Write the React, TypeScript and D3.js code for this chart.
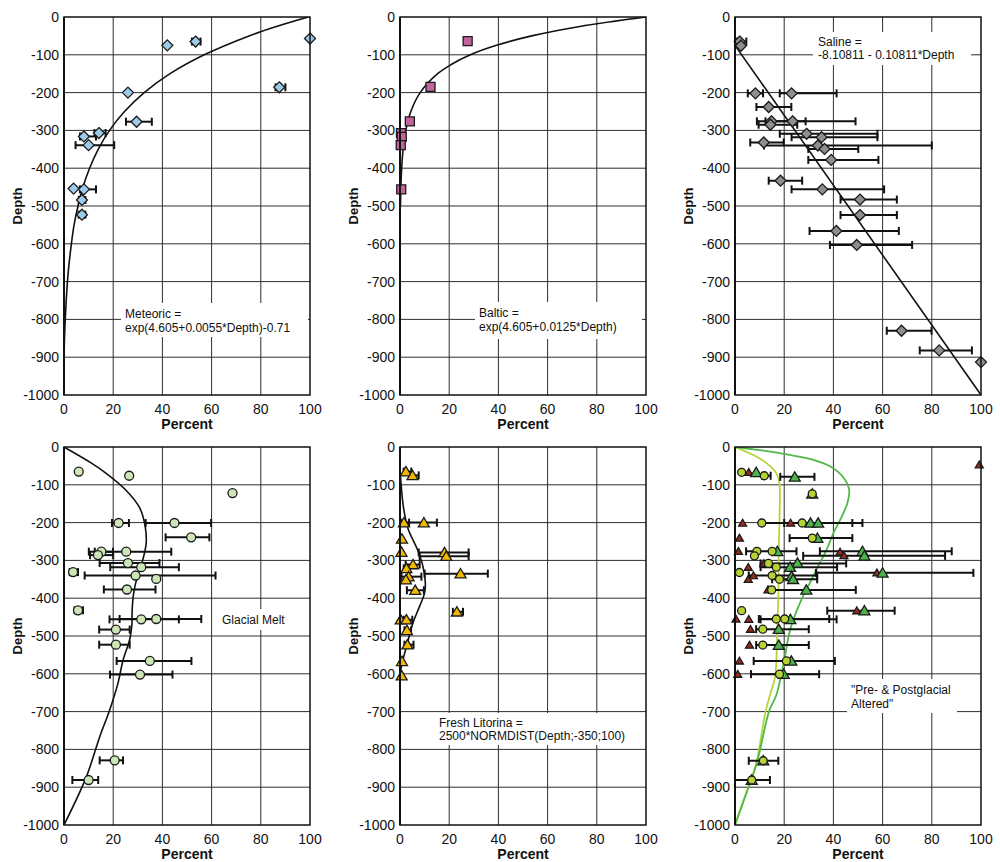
import React from 'react';
import * as d3 from 'd3';

type Pt = [number, number, number?, number?];
type CurvePt = [number, number];

// ---------- axis ticks ----------
const xTicks = [0, 20, 40, 60, 80, 100];
const yTicks = [0, -100, -200, -300, -400, -500, -600, -700, -800, -900, -1000];
const xTitle = 'Percent';
const yTitle = 'Depth';

// ---------- panel 1: Meteoric ----------
const meteoricPts: Pt[] = [
  [42, -75], [53.5, -65, 52, 55.5], [100, -57], [87.5, -186, 86, 90], [26, -200],
  [29.5, -277, 25.2, 35.7], [14.2, -307, 12.4, 16.9], [8.1, -316, 6.5, 13],
  [10, -339, 4.7, 20.4], [3.9, -454], [8.1, -456, 6.5, 13], [7.3, -484, 6, 8.7],
  [7.3, -523, 6, 8.7],
];
const meteoricCurve: CurvePt[] = [
  [99.3, 0], [86.4, -25], [75.2, -50], [57, -100], [43.1, -150], [32.6, -200],
  [24.6, -250], [18.5, -300], [13.9, -350], [10.4, -400], [7.7, -450], [5.7, -500],
  [4.1, -550], [3, -600], [2.1, -650], [1.4, -700], [0.9, -750], [0.5, -800],
  [0.2, -850], [0, -899],
];
const meteoricNote = ['Meteoric =', 'exp(4.605+0.0055*Depth)-0.71'];

// ---------- panel 2: Baltic ----------
const balticPts: Pt[] = [
  [27.5, -64], [12.4, -185], [4, -276], [0.4, -307], [0.7, -317], [0.3, -339], [0.5, -456],
];
const balticCurve: CurvePt[] = [
  [100, 0], [73.1, -25], [53.5, -50], [39.2, -75], [28.6, -100], [21, -125], [15.3, -150],
  [8.2, -200], [4.4, -250], [2.35, -300], [1.26, -350], [0.67, -400], [0.36, -450], [0.19, -500],
];
const balticNote = ['Baltic =', 'exp(4.605+0.0125*Depth)'];

// ---------- panel 3: Saline ----------
const salinePts: Pt[] = [
  [1.9, -65, 0.8, 4.6], [2.4, -76], [8.3, -202, 5.2, 11.4], [23, -202, 18.2, 41.3],
  [13.7, -238, 8.7, 22.9], [14.8, -276, 8.9, 28.7], [23.4, -276, 12.4, 49],
  [14.4, -285, 9.6, 25.3], [29.1, -309, 18.2, 57.9], [35.2, -318, 23, 57.9],
  [11.7, -332, 6.2, 19.8], [33.7, -340, 11.8, 80], [36.4, -349, 29.8, 50.1],
  [39.1, -378, 29.8, 58.3], [18.5, -433, 13.7, 27.3], [35.5, -456, 23, 60.6],
  [50.8, -483, 42.9, 65.8], [50.8, -524, 42.9, 65.8], [41.2, -566, 30.3, 66.6],
  [49.5, -603, 38.6, 72], [67.7, -830, 61.7, 79.9], [83, -882, 75.1, 96.3], [100, -913],
];
const salineCurve: CurvePt[] = [[0, -75], [100, -1000]];
const salineNote = ['Saline =', '-8.10811 - 0.10811*Depth'];

// ---------- panel 4: Glacial melt ----------
const glacialPts: Pt[] = [
  [6, -65], [26.5, -76], [68.5, -122], [22.2, -201, 19.5, 26.4], [44.9, -201, 33.2, 59.8],
  [51.7, -239, 41.3, 59.1], [15.2, -277, 10.1, 19.9], [25.3, -277, 12.5, 43.6],
  [13.8, -286, 10.6, 20], [26, -307, 14.5, 38.8], [31.4, -318, 18.8, 46.7],
  [3.7, -331, 2.3, 5.7], [29.1, -340, 8.4, 61.6], [37.5, -349], [25.6, -377, 16.2, 37.2],
  [5.7, -432, 4.3, 7.7], [31.4, -456, 18.5, 46.7], [37.5, -455, 22.6, 55.8],
  [21.1, -483, 14.3, 26.7], [21.1, -523, 14.3, 26.7], [34.9, -566, 21.4, 51.8],
  [30.9, -602, 18.7, 44.1], [20.6, -829, 14.5, 24], [10, -881, 3.4, 13.9],
];
const glacialCurve: CurvePt[] = [
  [0, 0], [11, -42], [17, -69], [25, -113], [30.7, -160], [33, -210], [33.4, -255],
  [32, -299], [29.8, -343], [28.3, -387], [27.7, -432], [27.6, -470], [26.7, -510],
  [24, -564], [21.9, -626], [18.5, -697], [14.5, -767], [9, -874], [0, -1000],
];
const glacialNote = ['Glacial Melt'];

// ---------- panel 5: Fresh Litorina ----------
const litorinaPts: Pt[] = [
  [2.4, -65, 1.5, 4.6], [5.1, -75, 3.7, 7.6], [1.6, -200, 0.4, 3.7], [9.7, -200, 1.9, 15],
  [0.8, -243], [0.6, -278], [18.1, -279, 7.6, 27.9], [18.8, -289, 8, 27.9],
  [5.3, -311, 2.3, 8], [2.6, -321, 1.5, 4], [24.6, -335, 10, 35.7], [3.5, -343, 0.6, 8.7],
  [2.4, -351], [6.2, -379, 2.8, 9.7], [23.1, -436, 21.5, 25.6], [0.3, -457],
  [2.6, -457, 1.5, 5], [2.8, -485, 1.8, 4.5], [3, -523, 1.8, 5.5], [0.8, -567], [0.7, -605],
];
const litorinaCurve: CurvePt[] = [
  [0, -58], [0.6, -111], [1.5, -164], [3.3, -217], [7, -270], [9.3, -315], [10.3, -359],
  [10, -386], [8, -421], [5.3, -465], [3, -519], [1.2, -563], [0.3, -590], [0, -610],
];
const litorinaNote = ['Fresh Litorina =', '2500*NORMDIST(Depth;-350;100)'];

// ---------- panel 6: Pre- & Postglacial altered ----------
const alteredRed: Pt[] = [
  [99.3, -47], [5.6, -67], [3.1, -201], [22.6, -201], [1.8, -241], [1.4, -276], [42.7, -278],
  [44.3, -287], [11.7, -308], [5.4, -318], [57.7, -333], [7.5, -340], [5.4, -350],
  [13.4, -378], [49.5, -433], [0.4, -455], [5.6, -456], [6.3, -482], [5.9, -524],
  [1.8, -566], [1.1, -601],
];
const alteredCircle: Pt[] = [
  [2.7, -67], [11.9, -76, 11, 14.5], [31.4, -124], [10.9, -201], [27.3, -201, 11, 51.8],
  [31.4, -241], [8.9, -276], [7.9, -288], [15.1, -276, 4.5, 25], [13.6, -308, 10.4, 45.2],
  [16.8, -318, 10.4, 41.5], [1.8, -332], [15.1, -340, 5.6, 33.4], [18.1, -350, 15.1, 33.4],
  [14.9, -378, 13.8, 49.1], [2.7, -433], [16.8, -455, 9.7, 38.3], [20.2, -455],
  [11.3, -482, 8.6, 30], [11.3, -524, 8.6, 30], [20.9, -566, 7.6, 40.6],
  [18.1, -601, 6.5, 34.2], [11.5, -830, 5.6, 17.6], [6.8, -881, 0, 14.2],
];
const alteredGreen: Pt[] = [
  [8.6, -67], [24.3, -79, 18.4, 32.3], [31.4, -124], [30.7, -201, 20, 47.7], [33.8, -201],
  [33.5, -241, 22.2, 47.7], [17.2, -276], [51.8, -276, 34.5, 88.1], [52.6, -288, 27.7, 85.4],
  [25.4, -307], [22.4, -318], [60, -333, 32.9, 96.9], [23, -342], [23.6, -350], [29, -378],
  [52.6, -433, 37.5, 64.9], [22.5, -456, 10.4, 41.3], [17.8, -482], [17.8, -524],
  [22.9, -566], [19.8, -601], [11.5, -830], [6.8, -881],
];
const alteredLightCurve: CurvePt[] = [
  [0, 0], [8.6, -25], [12.7, -42], [16.8, -69], [18.1, -100], [18.1, -184], [17.8, -272],
  [17.6, -400], [17.2, -479], [16.8, -568], [16.2, -612], [14.5, -650], [12.4, -700],
  [8.5, -840], [3.8, -929], [0, -1000],
];
const alteredGreenCurve: CurvePt[] = [
  [0, 0], [18.1, -16], [31.8, -34], [38.6, -51], [44, -80], [46.4, -113], [45.7, -148],
  [43.4, -184], [40, -228], [37.2, -272], [33.8, -316], [30.4, -360], [27, -404],
  [22.6, -479], [19.9, -568], [16.8, -656], [13.8, -700], [8.7, -840], [3.9, -929], [0, -1000],
];
const alteredNote = ['"Pre- & Postglacial', 'Altered"'];

// ---------- layout / style ----------
const FONT = "'Liberation Sans', Arial, Helvetica, sans-serif";
const PW = 246;
const PH = 378;
const COLS = [64, 400, 735];
const ROWS = [17, 447];

type Shape = 'diamond' | 'square' | 'circle' | 'triangle';
interface SeriesDef { pts: Pt[]; shape: Shape; size: number; fill: string; }
interface CurveDef { pts: CurvePt[]; color: string; width: number; }
interface NoteDef { lines: string[]; dx: number; dy: number; lh: number; box: [number, number, number, number]; }

function shapePath(shape: Shape, s: number): string {
  const h = s / 2;
  if (shape === 'diamond') return `M0,${-h}L${h},0L0,${h}L${-h},0Z`;
  if (shape === 'square') return `M${-h},${-h}H${h}V${h}H${-h}Z`;
  if (shape === 'triangle') {
    const th = s * 0.85;
    return `M0,${-th * 0.55}L${h},${th * 0.45}L${-h},${th * 0.45}Z`;
  }
  return '';
}

function Panel(props: { id: string; left: number; top: number; series: SeriesDef[]; curves: CurveDef[]; note: NoteDef; }) {
  const { id, left, top, series, curves, note } = props;
  const x = d3.scaleLinear().domain([0, 100]).range([left, left + PW]);
  const y = d3.scaleLinear().domain([0, -1000]).range([top, top + PH]);
  const line = d3.line<CurvePt>().x(d => x(d[0])).y(d => y(d[1])).curve(d3.curveCatmullRom.alpha(0.5));
  const bottom = top + PH;
  return (
    <g>
      <defs>
        <clipPath id={`clip-${id}`}>
          <rect x={left} y={top} width={PW} height={PH} />
        </clipPath>
      </defs>
      <rect x={left} y={top} width={PW} height={PH} fill="#fff" />
      {xTicks.slice(1, -1).map(t => (
        <line key={'gx' + t} x1={x(t)} x2={x(t)} y1={top} y2={bottom} stroke="#2e2e2e" strokeWidth={1} />
      ))}
      {yTicks.slice(1, -1).map(t => (
        <line key={'gy' + t} x1={left} x2={left + PW} y1={y(t)} y2={y(t)} stroke="#2e2e2e" strokeWidth={1} />
      ))}
      <rect x={left + note.box[0]} y={top + note.box[1]} width={note.box[2]} height={note.box[3]} fill="#fff" />
      <text fontFamily={FONT} fontSize={12} fill="#111">
        {note.lines.map((l, i) => (
          <tspan key={i} x={left + note.dx} y={top + note.dy + i * note.lh}>{l}</tspan>
        ))}
      </text>
      <g clipPath={`url(#clip-${id})`}>
        {curves.map((c, i) => (
          <path key={i} d={line(c.pts) || ''} fill="none" stroke={c.color} strokeWidth={c.width} />
        ))}
      </g>
      {series.map((s, si) => (
        <g key={'e' + si}>
          {s.pts.filter(p => p[2] !== undefined && p[3] !== undefined).map((p, i) => (
            <g key={i} stroke="#111" strokeWidth={2}>
              <line x1={x(p[2] as number)} x2={x(p[3] as number)} y1={y(p[1])} y2={y(p[1])} />
              <line x1={x(p[2] as number)} x2={x(p[2] as number)} y1={y(p[1]) - 4} y2={y(p[1]) + 4} />
              <line x1={x(p[3] as number)} x2={x(p[3] as number)} y1={y(p[1]) - 4} y2={y(p[1]) + 4} />
            </g>
          ))}
        </g>
      ))}
      {series.map((s, si) => (
        <g key={'m' + si}>
          {s.pts.map((p, i) =>
            s.shape === 'circle' ? (
              <circle key={i} cx={x(p[0])} cy={y(p[1])} r={s.size / 2} fill={s.fill} stroke="#1a1a1a" strokeWidth={1.3} />
            ) : (
              <path key={i} d={shapePath(s.shape, s.size)} transform={`translate(${x(p[0])},${y(p[1])})`}
                fill={s.fill} stroke="#1a1a1a" strokeWidth={1.3} />
            )
          )}
        </g>
      ))}
      <rect x={left} y={top} width={PW} height={PH} fill="none" stroke="#111" strokeWidth={1.5} />
      <line x1={left} x2={left} y1={top} y2={bottom} stroke="#111" strokeWidth={2} />
      {yTicks.map(t => (
        <text key={'ty' + t} x={left - 5} y={y(t)} dy="0.36em" textAnchor="end" fontFamily={FONT} fontSize={14} fill="#111">{String(t)}</text>
      ))}
      {xTicks.map(t => (
        <text key={'tx' + t} x={x(t)} y={bottom + 19} textAnchor="middle" fontFamily={FONT} fontSize={14} fill="#111">{String(t)}</text>
      ))}
      <text x={left + PW / 2} y={bottom + 34} textAnchor="middle" fontFamily={FONT} fontSize={14} fontWeight="bold" fill="#111">{xTitle}</text>
      <text transform={`translate(${left - 42},${top + PH / 2}) rotate(-90)`} textAnchor="middle" fontFamily={FONT} fontSize={13} fontWeight="bold" fill="#111">{yTitle}</text>
    </g>
  );
}

export default function App() {
  return (
    <svg width={1000} height={862} viewBox="0 0 1000 862"
      style={{ position: 'absolute', left: 0, top: 0, display: 'block', background: '#fff' }}>
      <rect x={0} y={0} width={1000} height={862} fill="#fff" />
      <Panel id="p1" left={COLS[0]} top={ROWS[0]}
        series={[{ pts: meteoricPts, shape: 'diamond', size: 11, fill: '#9ccbe9' }]}
        curves={[{ pts: meteoricCurve, color: '#111', width: 1.6 }]}
        note={{ lines: meteoricNote, dx: 61, dy: 301, lh: 14, box: [57, 286, 187, 34] }} />
      <Panel id="p2" left={COLS[1]} top={ROWS[0]}
        series={[{ pts: balticPts, shape: 'square', size: 9, fill: '#c4649f' }]}
        curves={[{ pts: balticCurve, color: '#111', width: 1.6 }]}
        note={{ lines: balticNote, dx: 79, dy: 300, lh: 14, box: [75, 285, 167, 37] }} />
      <Panel id="p3" left={COLS[2]} top={ROWS[0]}
        series={[{ pts: salinePts, shape: 'diamond', size: 11, fill: '#8e8e8e' }]}
        curves={[{ pts: salineCurve, color: '#111', width: 1.6 }]}
        note={{ lines: salineNote, dx: 83, dy: 29, lh: 13, box: [78, 15, 158, 33] }} />
      <Panel id="p4" left={COLS[0]} top={ROWS[1]}
        series={[{ pts: glacialPts, shape: 'circle', size: 9, fill: '#cce6b8' }]}
        curves={[{ pts: glacialCurve, color: '#111', width: 1.6 }]}
        note={{ lines: glacialNote, dx: 158, dy: 177, lh: 14, box: [154, 162, 74, 21] }} />
      <Panel id="p5" left={COLS[1]} top={ROWS[1]}
        series={[{ pts: litorinaPts, shape: 'triangle', size: 11, fill: '#f2b800' }]}
        curves={[{ pts: litorinaCurve, color: '#111', width: 1.6 }]}
        note={{ lines: litorinaNote, dx: 39, dy: 280, lh: 13, box: [35, 266, 198, 32] }} />
      <Panel id="p6" left={COLS[2]} top={ROWS[1]}
        series={[
          { pts: alteredRed, shape: 'triangle', size: 8, fill: '#9a2a1c' },
          { pts: alteredGreen, shape: 'triangle', size: 11, fill: '#4db34a' },
          { pts: alteredCircle, shape: 'circle', size: 8, fill: '#b5d334' },
        ]}
        curves={[
          { pts: alteredLightCurve, color: '#b4d63a', width: 1.8 },
          { pts: alteredGreenCurve, color: '#52b848', width: 1.8 },
        ]}
        note={{ lines: alteredNote, dx: 116, dy: 247, lh: 14, box: [112, 232, 110, 34] }} />
    </svg>
  );
}
